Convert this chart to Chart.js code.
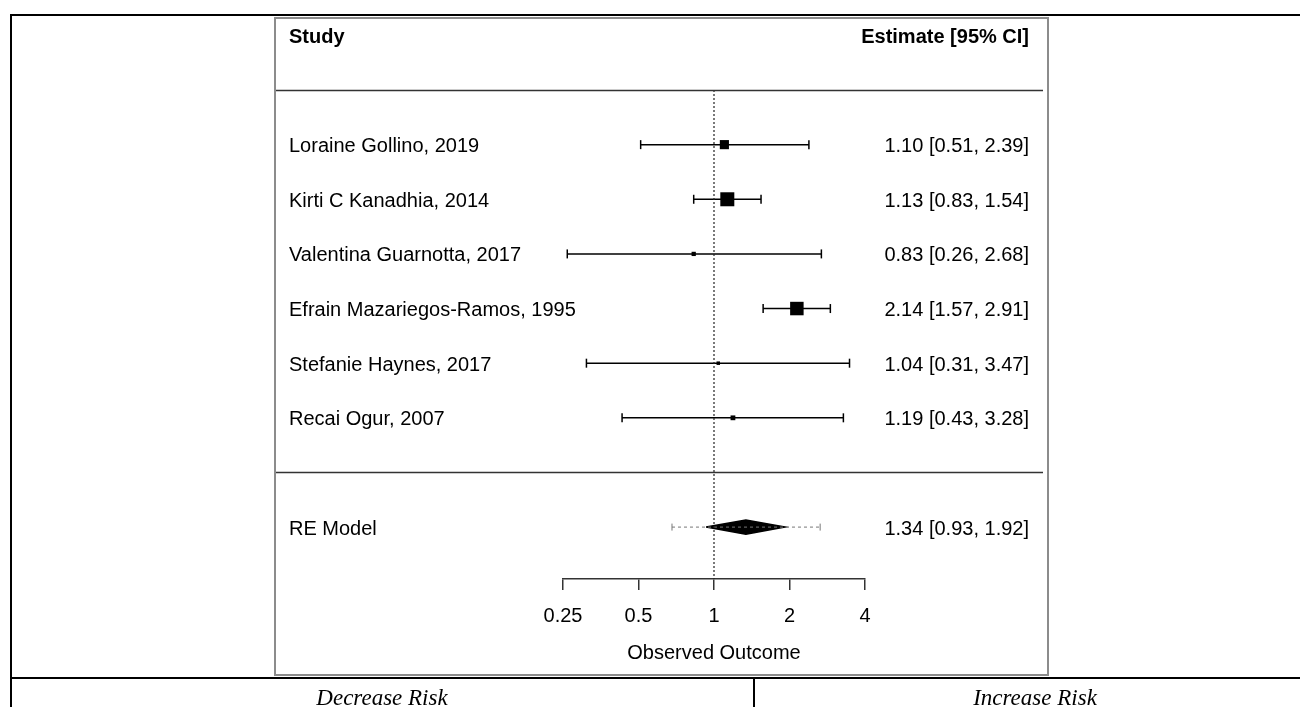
<!DOCTYPE html>
<html>
<head>
<meta charset="utf-8">
<script src="https://cdn.jsdelivr.net/npm/chart.js@4.4.1/dist/chart.umd.min.js"></script>
<style>
    html, body { margin: 0; padding: 0; background: #fff; }
    body { width: 1300px; height: 707px; position: relative; overflow: hidden; }
    #forest { position: absolute; left: 0; top: 0; }
    .rule { position: absolute; background: #000; }
    .frame { position: absolute; left: 274px; top: 17px; width: 775px; height: 659px;
             border: 2px solid #8c8c8c; box-sizing: border-box; }
    .risk { position: absolute; top: 685px; width: 400px; margin-left: -200px; text-align: center;
            font: italic 23px "Liberation Serif", "DejaVu Serif", serif; color: #000; }
</style>
</head>
<body>
<canvas id="forest" width="1300" height="707"></canvas>
<div class="frame"></div>
<div class="rule" style="left:10px; top:14px; width:1290px; height:2px;"></div>
<div class="rule" style="left:10px; top:14px; width:2px; height:693px;"></div>
<div class="rule" style="left:10px; top:677px; width:1290px; height:2px;"></div>
<div class="rule" style="left:753px; top:677px; width:2px; height:30px;"></div>
<div class="risk" style="left:382px;">Decrease Risk</div>
<div class="risk" style="left:1035px;">Increase Risk</div>

<script>
// Study data
const studies = [
    'Loraine Gollino, 2019',
    'Kirti C Kanadhia, 2014',
    'Valentina Guarnotta, 2017',
    'Efrain Mazariegos-Ramos, 1995',
    'Stefanie Haynes, 2017',
    'Recai Ogur, 2007'
];
const estimates = [1.10, 1.13, 0.83, 2.14, 1.04, 1.19];
const lower = [0.51, 0.83, 0.26, 1.57, 0.31, 0.43];
const upper = [2.39, 1.54, 2.68, 2.91, 3.47, 3.28];
const weights = [18.5, 28.0, 9.0, 27.0, 7.5, 10.0];
const rows = [6, 5, 4, 3, 2, 1];

// Random-effects summary
const reLabel = 'RE Model';
const reRow = -1;
const reEstimate = 1.34;
const reLower = 0.93;
const reUpper = 1.92;
const piLower = 0.68;
const piUpper = 2.65;

// Axis
const tickValues = [0.25, 0.5, 1, 2, 4];
const tickLabels = ['0.25', '0.5', '1', '2', '4'];
const axisTitle = 'Observed Outcome';
const headerLeft = 'Study';
const headerRight = 'Estimate [95% CI]';

const FONT = '"Liberation Sans", Arial, sans-serif';
const TEXT_NUDGE = 2; // canvas 'middle' sits a bit high for this font

function fmtCI(est, lo, hi) {
    return est.toFixed(2) + ' [' + lo.toFixed(2) + ', ' + hi.toFixed(2) + ']';
}

// square side grows linearly with weight (as metafor does)
const wMin = Math.min(...weights);
const wMax = Math.max(...weights);
const squareRadius = weights.map(w => (3.5 + (w - wMin) / (wMax - wMin) * 10.5) / Math.SQRT2);

const datasets = [];

// reference line at 1
datasets.push({
    data: [{ x: 1, y: 7 }, { x: 1, y: -1.95 }],
    borderColor: '#222',
    borderWidth: 1.2,
    borderDash: [2, 2],
    pointRadius: 0
});

// confidence intervals with end caps
studies.forEach((s, i) => {
    datasets.push({
        data: [{ x: lower[i], y: rows[i] }, { x: upper[i], y: rows[i] }],
        borderColor: '#000',
        borderWidth: 1.5,
        pointStyle: 'line',
        rotation: 90,
        pointRadius: 4.5,
        pointBorderWidth: 1.5,
        pointBorderColor: '#000'
    });
});

// weighted squares
datasets.push({
    data: studies.map((s, i) => ({ x: estimates[i], y: rows[i] })),
    showLine: false,
    pointStyle: 'rect',
    pointRadius: squareRadius,
    backgroundColor: '#000',
    pointBorderWidth: 0,
    borderColor: '#000'
});

// prediction interval (dotted)
datasets.push({
    data: [{ x: piLower, y: reRow }, { x: piUpper, y: reRow }],
    borderColor: '#777',
    borderWidth: 1,
    borderDash: [3, 3],
    pointStyle: 'line',
    rotation: 90,
    pointRadius: 3.5,
    pointBorderWidth: 1,
    pointBorderColor: '#777'
});

// summary diamond
const halfH = 0.13;
datasets.push({
    data: [
        { x: reLower, y: reRow },
        { x: reEstimate, y: reRow + halfH },
        { x: reUpper, y: reRow },
        { x: reEstimate, y: reRow - halfH },
        { x: reLower, y: reRow }
    ],
    borderColor: '#000',
    borderWidth: 1.5,
    backgroundColor: '#000',
    fill: 'shape',
    pointRadius: 0
});

// table text and rules drawn from the y scale
const forestText = {
    id: 'forestText',
    afterDatasetsDraw(chart) {
        const ctx = chart.ctx;
        const y = chart.scales.y;
        ctx.save();

        ctx.strokeStyle = '#333';
        ctx.lineWidth = 1.5;
        [7, 0].forEach(v => {
            const py = Math.round(y.getPixelForValue(v)) + 0.5;
            ctx.beginPath();
            ctx.moveTo(276, py);
            ctx.lineTo(1043, py);
            ctx.stroke();
        });

        ctx.fillStyle = '#000';
        ctx.textBaseline = 'middle';

        ctx.font = 'bold 20px ' + FONT;
        ctx.textAlign = 'left';
        ctx.fillText(headerLeft, 289, y.getPixelForValue(8) + TEXT_NUDGE);
        ctx.textAlign = 'right';
        ctx.fillText(headerRight, 1029, y.getPixelForValue(8) + TEXT_NUDGE);

        ctx.font = '20px ' + FONT;
        studies.forEach((s, i) => {
            const py = y.getPixelForValue(rows[i]) + TEXT_NUDGE;
            ctx.textAlign = 'left';
            ctx.fillText(s, 289, py);
            ctx.textAlign = 'right';
            ctx.fillText(fmtCI(estimates[i], lower[i], upper[i]), 1029, py);
        });
        const pr = y.getPixelForValue(reRow) + TEXT_NUDGE;
        ctx.textAlign = 'left';
        ctx.fillText(reLabel, 289, pr);
        ctx.textAlign = 'right';
        ctx.fillText(fmtCI(reEstimate, reLower, reUpper), 1029, pr);

        ctx.restore();
    }
};

new Chart(document.getElementById('forest').getContext('2d'), {
    type: 'line',
    data: { datasets: datasets },
    options: {
        responsive: false,
        animation: false,
        layout: { padding: { left: 563, right: 435, top: 90, bottom: 32 } },
        plugins: {
            legend: { display: false },
            tooltip: { enabled: false }
        },
        elements: { line: { tension: 0 } },
        scales: {
            x: {
                type: 'logarithmic',
                min: 0.25,
                max: 4,
                afterBuildTicks: scale => {
                    scale.ticks = tickValues.map(v => ({ value: v }));
                },
                afterFit: scale => { scale.height = 96; },
                ticks: {
                    autoSkip: false,
                    maxRotation: 0,
                    padding: 14,
                    color: '#000',
                    font: { family: FONT, size: 20 },
                    callback: (v) => tickLabels[tickValues.indexOf(v)]
                },
                grid: {
                    drawOnChartArea: false,
                    drawTicks: true,
                    tickLength: 11,
                    color: '#333',
                    lineWidth: 1.5
                },
                border: { display: true, color: '#333', width: 1.5 },
                title: {
                    display: true,
                    text: axisTitle,
                    color: '#000',
                    font: { family: FONT, size: 20 },
                    padding: { top: 0, bottom: 10 }
                }
            },
            y: {
                type: 'linear',
                min: -1.95,
                max: 7,
                display: false
            }
        }
    },
    plugins: [forestText]
});
</script>
</body>
</html>
